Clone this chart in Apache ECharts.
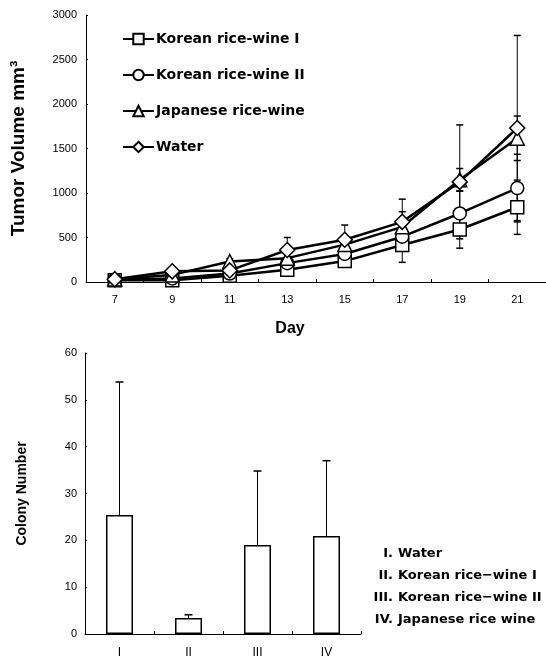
<!DOCTYPE html>
<html>
<head>
<meta charset="utf-8">
<script src="https://cdn.jsdelivr.net/npm/echarts@6/dist/echarts.min.js"></script>
<style>
html,body{margin:0;padding:0;background:#fff;}
#c{width:546px;height:661px;}
</style>
</head>
<body>
<div id="c"></div>
<script>
// ---- Top chart data ----
const days = ['7', '9', '11', '13', '15', '17', '19', '21'];
const seriesNames = ['Korean rice-wine I', 'Korean rice-wine II', 'Japanese rice-wine', 'Water'];
const koreanI = [20, 20, 70, 138, 235, 416, 590, 840];
const koreanII = [25, 40, 95, 212, 315, 509, 770, 1055];
const japanese = [35, 80, 230, 268, 420, 620, 1150, 1615];
const water = [30, 120, 130, 360, 475, 676, 1125, 1730];
const koreanIErr = [5, 10, 20, 40, 60, 195, 210, 305];
const koreanIIErr = [5, 10, 20, 40, 60, 80, 250, 380];
const japaneseErr = [5, 15, 30, 60, 80, 170, 125, 250];
const waterErr = [5, 15, 30, 140, 165, 255, 640, 1040];
const volumeTicks = [0, 500, 1000, 1500, 2000, 2500, 3000];

// ---- Bottom chart data ----
const groups = ['I', 'II', 'III', 'IV'];
const colonyMean = [25.4, 3.4, 19.0, 20.9];
const colonyErr = [28.4, 0.7, 15.8, 16.1];
const colonyTicks = [0, 10, 20, 30, 40, 50, 60];
const groupLegendNumerals = ['I.', 'II.', 'III.', 'IV.'];
const groupLegendNames = ['Water', 'Korean rice\u2212wine I', 'Korean rice\u2212wine II', 'Japanese rice wine'];

const means = [koreanI, koreanII, japanese, water];
const errs = [koreanIErr, koreanIIErr, japaneseErr, waterErr];
const symbols = ['rect', 'circle', 'triangle', 'diamond'];

const chart = echarts.init(document.getElementById('c'), null, {renderer: 'canvas'});

function errRender(capHalf, upperOnly) {
  return function (params, api) {
    const x = api.value(0), m = api.value(1), e = api.value(2);
    const top = api.coord([x, m + e]);
    const bot = api.coord([x, upperOnly ? m : m - e]);
    const children = [
      {type: 'line', shape: {x1: top[0], y1: top[1], x2: bot[0], y2: bot[1]}, style: {stroke: '#000', lineWidth: 1}},
      {type: 'line', shape: {x1: top[0] - capHalf, y1: top[1], x2: top[0] + capHalf, y2: top[1]}, style: {stroke: '#000', lineWidth: 1.5}}
    ];
    if (!upperOnly) {
      children.push({type: 'line', shape: {x1: bot[0] - capHalf, y1: bot[1], x2: bot[0] + capHalf, y2: bot[1]}, style: {stroke: '#000', lineWidth: 1.5}});
    }
    return {type: 'group', children: children};
  };
}

const series = [];
seriesNames.forEach(function (name, k) {
  series.push({
    type: 'custom',
    xAxisIndex: 0, yAxisIndex: 0,
    z: 1,
    silent: true,
    renderItem: errRender(3.5, false),
    data: days.map(function (d, i) { return [i, means[k][i], errs[k][i]]; }),
    encode: {x: 0, y: 1}
  });
});
seriesNames.forEach(function (name, k) {
  series.push({
    name: name,
    type: 'line',
    xAxisIndex: 0, yAxisIndex: 0,
    z: 2 + k,
    data: means[k],
    symbol: symbols[k],
    symbolSize: symbols[k] === 'triangle' ? 14 : (symbols[k] === 'diamond' ? 15 : 13),
    showAllSymbol: true,
    lineStyle: {color: '#000', width: 2.5},
    itemStyle: {color: '#fff', borderColor: '#000', borderWidth: 1.5},
    emphasis: {disabled: true},
    animation: false
  });
});
series.push({
  type: 'bar',
  xAxisIndex: 1, yAxisIndex: 1,
  data: colonyMean,
  barWidth: 27,
  itemStyle: {color: '#fff', borderColor: '#000', borderWidth: 1.5},
  animation: false
});
series.push({
  type: 'custom',
  xAxisIndex: 1, yAxisIndex: 1,
  z: 3,
  renderItem: errRender(4, true),
  data: groups.map(function (g, i) { return [i, colonyMean[i], colonyErr[i]]; }),
  encode: {x: 0, y: 1}
});

const graphics = [];
groupLegendNames.forEach(function (n, i) {
  graphics.push({
    type: 'text',
    x: 393, y: 554 + i * 22,
    style: {text: groupLegendNumerals[i], font: 'bold 13px "DejaVu Sans"', fill: '#000', align: 'right', verticalAlign: 'middle'}
  });
  graphics.push({
    type: 'text',
    x: 398, y: 554 + i * 22,
    style: {text: n, font: 'bold 13px "DejaVu Sans"', fill: '#000', align: 'left', verticalAlign: 'middle'}
  });
});

const axisLineStyle = {show: true, lineStyle: {color: '#000', width: 1}};
const plainNum = function (v) { return String(v); };

chart.setOption({
  animation: false,
  backgroundColor: '#fff',
  textStyle: {fontFamily: 'Liberation Sans', color: '#000'},
  grid: [
    {left: 86, right: 0, top: 15, height: 267},
    {left: 85, width: 276, top: 353, height: 281}
  ],
  legend: {
    data: seriesNames,
    orient: 'vertical',
    left: 117, top: 27,
    itemWidth: 31, itemHeight: 13,
    itemGap: 22,
    selectedMode: false,
    textStyle: {fontFamily: 'DejaVu Sans', fontWeight: 'bold', fontSize: 14, color: '#000', padding: [0, 0, 0, -3]}
  },
  xAxis: [
    {
      type: 'category', gridIndex: 0, data: days, boundaryGap: true,
      axisLine: axisLineStyle,
      axisTick: {show: true, inside: true, length: 3, lineStyle: {color: '#000'}},
      axisLabel: {color: '#000', fontSize: 11, margin: 12, fontFamily: 'Liberation Sans'},
      name: 'Day', nameLocation: 'middle', nameGap: 39,
      nameTextStyle: {fontFamily: 'Liberation Sans', fontWeight: 'bold', fontSize: 16, color: '#000', padding: [0, 52, 0, 0]}
    },
    {
      type: 'category', gridIndex: 1, data: groups, boundaryGap: true,
      axisLine: axisLineStyle,
      axisTick: {show: true, inside: true, length: 3, lineStyle: {color: '#000'}},
      axisLabel: {color: '#000', fontSize: 12, margin: 13, fontFamily: 'Liberation Sans'}
    }
  ],
  yAxis: [
    {
      type: 'value', gridIndex: 0, min: volumeTicks[0], max: volumeTicks[volumeTicks.length - 1], interval: 500,
      axisLine: axisLineStyle,
      axisTick: {show: true, inside: true, length: 2, lineStyle: {color: '#000'}},
      splitLine: {show: false},
      axisLabel: {color: '#000', fontSize: 11, margin: 9, fontFamily: 'Liberation Sans', formatter: plainNum},
      name: 'Tumor Volume mm\u00B3', nameLocation: 'middle', nameGap: 58,
      nameTextStyle: {fontFamily: 'Liberation Sans', fontWeight: 'bold', fontSize: 19, color: '#000'}
    },
    {
      type: 'value', gridIndex: 1, min: colonyTicks[0], max: colonyTicks[colonyTicks.length - 1], interval: 10,
      axisLine: axisLineStyle,
      axisTick: {show: true, inside: true, length: 2, lineStyle: {color: '#000'}},
      splitLine: {show: false},
      axisLabel: {color: '#000', fontSize: 11, margin: 8, fontFamily: 'Liberation Sans', formatter: plainNum},
      name: 'Colony Number', nameLocation: 'middle', nameGap: 56,
      nameTextStyle: {fontFamily: 'Liberation Sans', fontWeight: 'bold', fontSize: 14, color: '#000'}
    }
  ],
  graphic: graphics,
  series: series
});
</script>
</body>
</html>
